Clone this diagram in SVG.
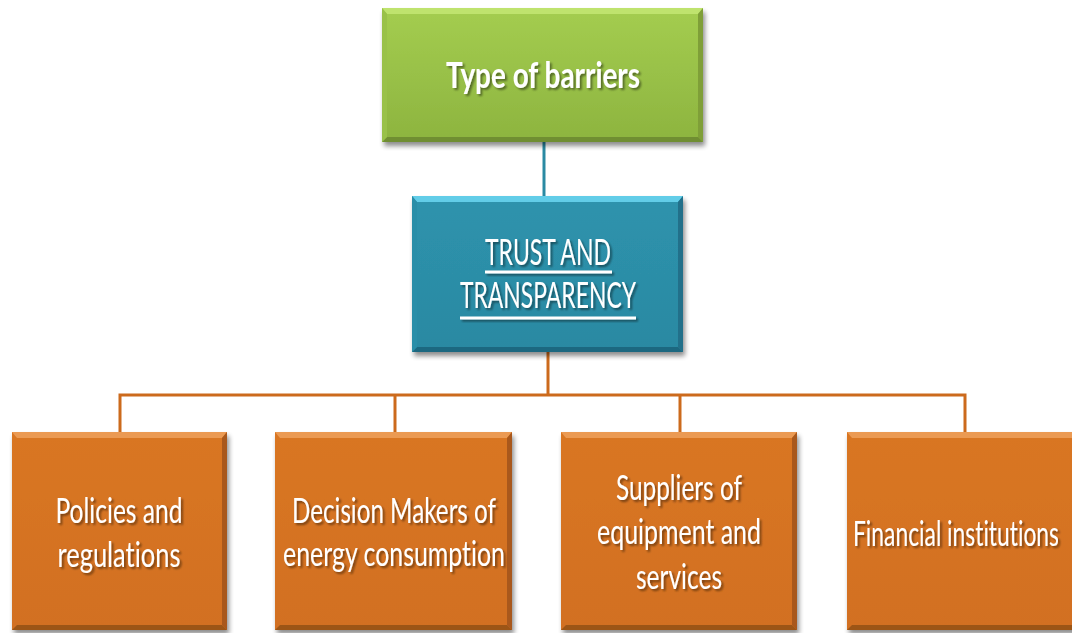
<svg xmlns="http://www.w3.org/2000/svg" width="1072" height="633" viewBox="0 0 1072 633">
  <style>
    .lbl { font-family: Lato, "Open Sans", "Liberation Sans", sans-serif; fill: #ffffff; text-anchor: middle; font-variant-ligatures: none; filter: url(#txtShadow); }
    .top { font-size: 37px; font-weight: bold; }
    .mid { font-size: 36px; }
    .leaf { font-size: 34px; }
    .wire { fill: none; stroke-width: 3; }
    .wire-teal { stroke: #2a8aa3; }
    .wire-org { stroke: #cc6a1c; }
    .ul { fill: #ffffff; filter: url(#txtShadow); }
  </style>
  <defs>
    <filter id="boxShadow" x="-10%" y="-10%" width="125%" height="130%">
      <feGaussianBlur in="SourceAlpha" stdDeviation="2.5"/>
      <feOffset dx="2" dy="4" result="b"/>
      <feComponentTransfer><feFuncA type="linear" slope="0.45"/></feComponentTransfer>
      <feMerge><feMergeNode/><feMergeNode in="SourceGraphic"/></feMerge>
    </filter>
    <filter id="txtShadow" x="-10%" y="-50%" width="120%" height="250%">
      <feGaussianBlur in="SourceAlpha" stdDeviation="1"/>
      <feOffset dx="1.5" dy="1.5"/>
      <feComponentTransfer><feFuncA type="linear" slope="0.45"/></feComponentTransfer>
      <feMerge><feMergeNode/><feMergeNode in="SourceGraphic"/></feMerge>
    </filter>
    <linearGradient id="gGreen" x1="0" y1="0" x2="0" y2="1">
      <stop offset="0" stop-color="#a4cd50"/>
      <stop offset="1" stop-color="#8db43f"/>
    </linearGradient>
    <linearGradient id="gTeal" x1="0" y1="0" x2="0" y2="1">
      <stop offset="0" stop-color="#2e93ad"/>
      <stop offset="1" stop-color="#2a89a2"/>
    </linearGradient>
    <linearGradient id="gOrange" x1="0" y1="0" x2="0" y2="1">
      <stop offset="0" stop-color="#d97624"/>
      <stop offset="1" stop-color="#d27020"/>
    </linearGradient>
  </defs>

  <!-- connectors -->
  <g id="connectors">
    <line class="wire wire-teal" x1="544" y1="142" x2="544" y2="197"/>
    <line class="wire wire-org" x1="548" y1="352" x2="548" y2="395"/>
    <polyline class="wire wire-org" points="120,433 120,395 965,395 965,433"/>
    <line class="wire wire-org" x1="395" y1="395" x2="395" y2="433"/>
    <line class="wire wire-org" x1="680" y1="395" x2="680" y2="433"/>
  </g>

  <!-- root node -->
  <g id="node-type" filter="url(#boxShadow)">
    <rect x="382" y="8" width="321" height="134" fill="url(#gGreen)"/>
    <polygon points="382,8 703,8 698,14 387,14" fill="#bfe36e"/>
    <polygon points="703,8 703,142 698,137 698,14" fill="#7f9f39"/>
    <polygon points="382,142 703,142 698,137 387,137" fill="#6f8e30"/>
    <polygon points="382,8 387,14 387,137 382,142" fill="#99c148"/>
    <text class="lbl top" x="543" y="88" textLength="194" lengthAdjust="spacingAndGlyphs">Type of barriers</text>
  </g>

  <!-- category node -->
  <g id="node-trust" filter="url(#boxShadow)">
    <rect x="412" y="196" width="271" height="156" fill="url(#gTeal)"/>
    <polygon points="412,196 683,196 678,202 417,202" fill="#62cde8"/>
    <polygon points="683,196 683,352 678,347 678,202" fill="#20708a"/>
    <polygon points="412,352 683,352 678,347 417,347" fill="#1d6880"/>
    <polygon points="412,196 417,202 417,347 412,352" fill="#2c8ea8"/>
    <text class="lbl mid" x="548" y="265" textLength="126" lengthAdjust="spacingAndGlyphs">TRUST AND</text>
    <rect class="ul" x="485" y="270.5" width="127" height="3"/>
    <text class="lbl mid" x="548" y="308" textLength="176" lengthAdjust="spacingAndGlyphs">TRANSPARENCY</text>
    <rect class="ul" x="460" y="316.5" width="176" height="3"/>
  </g>

  <!-- barrier nodes -->
  <g id="node-policies" filter="url(#boxShadow)">
    <rect x="12" y="432" width="215" height="198" fill="url(#gOrange)"/>
    <polygon points="12,432 227,432 222,438 17,438" fill="#eb9a52"/>
    <polygon points="227,432 227,630 222,625 222,438" fill="#a9591a"/>
    <polygon points="12,630 227,630 222,625 17,625" fill="#9c5418"/>
    <text class="lbl leaf" x="119" y="523" textLength="127" lengthAdjust="spacingAndGlyphs">Policies and</text>
    <text class="lbl leaf" x="119" y="567" textLength="123" lengthAdjust="spacingAndGlyphs">regulations</text>
  </g>

  <g id="node-decision" filter="url(#boxShadow)">
    <rect x="275" y="432" width="237" height="198" fill="url(#gOrange)"/>
    <polygon points="275,432 512,432 507,438 280,438" fill="#eb9a52"/>
    <polygon points="512,432 512,630 507,625 507,438" fill="#a9591a"/>
    <polygon points="275,630 512,630 507,625 280,625" fill="#9c5418"/>
    <text class="lbl leaf" x="394" y="523" textLength="204" lengthAdjust="spacingAndGlyphs">Decision Makers of</text>
    <text class="lbl leaf" x="394" y="566" textLength="222" lengthAdjust="spacingAndGlyphs">energy consumption</text>
  </g>

  <g id="node-suppliers" filter="url(#boxShadow)">
    <rect x="561" y="432" width="236" height="198" fill="url(#gOrange)"/>
    <polygon points="561,432 797,432 792,438 566,438" fill="#eb9a52"/>
    <polygon points="797,432 797,630 792,625 792,438" fill="#a9591a"/>
    <polygon points="561,630 797,630 792,625 566,625" fill="#9c5418"/>
    <text class="lbl leaf" x="679" y="500" textLength="126" lengthAdjust="spacingAndGlyphs">Suppliers of</text>
    <text class="lbl leaf" x="679" y="544" textLength="164" lengthAdjust="spacingAndGlyphs">equipment and</text>
    <text class="lbl leaf" x="679" y="589" textLength="86" lengthAdjust="spacingAndGlyphs">services</text>
  </g>

  <g id="node-financial" filter="url(#boxShadow)">
    <rect x="847" y="432" width="236" height="198" fill="url(#gOrange)"/>
    <polygon points="847,432 1083,432 1078,438 852,438" fill="#eb9a52"/>
    <polygon points="847,630 1083,630 1078,625 852,625" fill="#9c5418"/>
    <text class="lbl leaf" x="956" y="546" textLength="206" lengthAdjust="spacingAndGlyphs">Financial institutions</text>
  </g>
</svg>
